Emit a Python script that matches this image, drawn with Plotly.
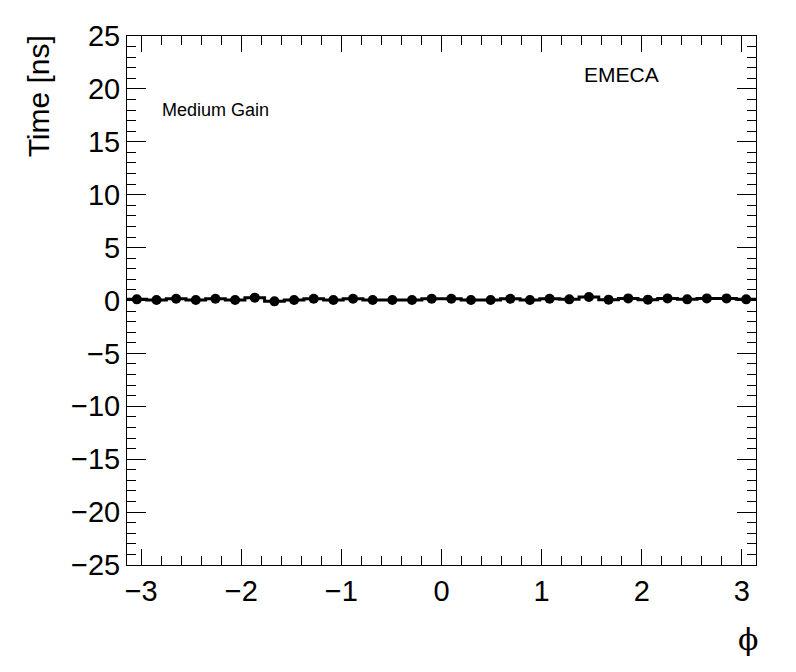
import numpy as np
import plotly.graph_objects as go

n_bins = 32
phi_min, phi_max = -np.pi, np.pi
# mean time per phi bin (ns)
time_ns = [0.11, 0.05, 0.17, 0.05, 0.17, 0.05, 0.27, -0.08, 0.05, 0.17, 0.05,
           0.17, 0.05, 0.05, 0.05, 0.17, 0.17, 0.05, 0.05, 0.17, 0.05, 0.17,
           0.11, 0.33, 0.08, 0.20, 0.08, 0.20, 0.11, 0.20, 0.20, 0.11]

edges = np.linspace(phi_min, phi_max, n_bins + 1)
centers = 0.5 * (edges[:-1] + edges[1:])

FONT = "Liberation Sans, Arial, sans-serif"

fig = go.Figure()
fig.add_trace(go.Scatter(
    x=list(edges), y=list(time_ns) + [time_ns[-1]],
    mode="lines", line=dict(color="black", width=3, shape="hv"),
    hoverinfo="skip", showlegend=False))
fig.add_trace(go.Scatter(
    x=centers, y=time_ns, mode="markers",
    marker=dict(color="black", size=10, symbol="circle"),
    showlegend=False))

axis_common = dict(
    showgrid=False, zeroline=False, showline=True, linecolor="black", linewidth=1,
    mirror="allticks", ticks="inside", tickcolor="black", tickwidth=1,
    tickfont=dict(family=FONT, size=29, color="black"),
)
fig.update_xaxes(range=[phi_min, phi_max], dtick=1, tick0=0, ticklen=16,
                 minor=dict(dtick=0.2, tick0=0, ticklen=9, ticks="inside", tickcolor="black"),
                 **axis_common)
fig.update_yaxes(range=[-25, 25], dtick=5, tick0=0, ticklen=19,
                 minor=dict(dtick=1, tick0=0, ticklen=9, ticks="inside", tickcolor="black"),
                 **axis_common)

fig.update_layout(
    width=788, height=664,
    margin=dict(l=119, r=40, t=26, b=107),
    plot_bgcolor="white", paper_bgcolor="white",
    font=dict(family=FONT, color="black"),
    annotations=[
        dict(text="Time [ns]", xref="paper", yref="paper", x=-0.1415, y=1.005,
             xanchor="center", yanchor="top", textangle=-90, showarrow=False,
             font=dict(family=FONT, size=30, color="black")),
        dict(text="ϕ", xref="paper", yref="paper", x=1.007, y=-0.141,
             xanchor="right", yanchor="middle", showarrow=False,
             font=dict(family="DejaVu Serif, serif", size=30, color="black")),
        dict(text="Medium Gain", xref="paper", yref="paper", x=0.0525, y=0.861,
             xanchor="left", yanchor="middle", showarrow=False,
             font=dict(family=FONT, size=18, color="black")),
        dict(text="EMECA", xref="paper", yref="paper", x=0.723, y=0.927,
             xanchor="left", yanchor="middle", showarrow=False,
             font=dict(family=FONT, size=21, color="black")),
    ],
)

fig.write_html("out.html")
